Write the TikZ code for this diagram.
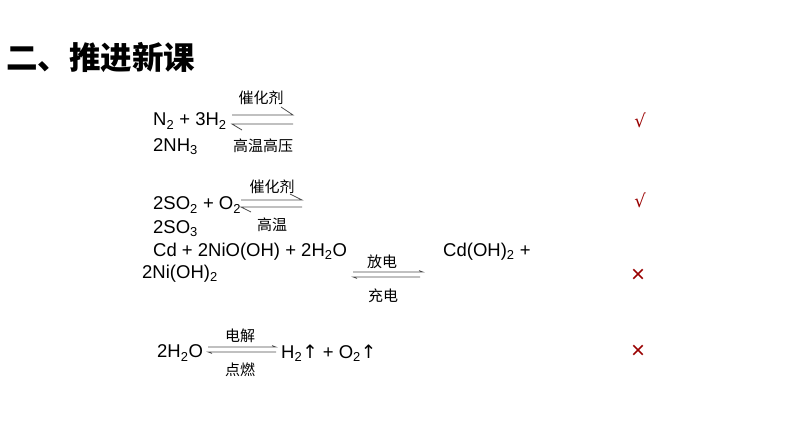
\documentclass[tikz,border=0pt]{standalone}
\usepackage{fontspec}
\setmainfont{Liberation Sans}
\newfontfamily\cjk{Noto Sans CJK SC}
\newfontfamily\djv{DejaVu Sans}
\newcommand{\sbs}[1]{\textsubscript{#1}}
\begin{document}
\begin{tikzpicture}[x=1pt,y=-1pt,
  eq/.style={anchor=west,inner sep=0pt,font=\fontsize{18.5}{18.5}\selectfont},
  lab/.style={inner sep=0pt,font=\cjk\fontsize{15}{15}\selectfont},
  ln/.style={draw=black!70,line width=0.8pt},
  mk/.style={inner sep=0pt,text=red!60!black,font=\fontsize{18}{18}\selectfont}]
\useasboundingbox (0,0) rectangle (794,447);
\node[anchor=west,inner sep=0pt,font=\cjk\bfseries\fontsize{31.5}{31.5}\selectfont] (t) at (6,57) {二、推进新课};
% eq1
\node[eq] (e1) at (153,121) {N\sbs{2} + 3H\sbs{2}};
\node[eq] (e1b) at (153,147) {2NH\sbs{3}};
\node[lab] (c1) at (261,98) {催化剂};
\node[lab] (c1b) at (263,146) {高温高压};
\coordinate (a1) at (232,115); \coordinate (b1) at (293,115);
\coordinate (a2) at (232,124); \coordinate (b2) at (293,124);
\draw[ln] (a1) -- (b1) -- ++(-12,-8);
\draw[ln] (b2) -- (a2) -- ++(10,6);
\node[mk] (m1) at (640,120) {\djv √};
% eq2
\node[eq] (e2) at (153,205) {2SO\sbs{2} + O\sbs{2}};
\node[eq] (e2b) at (153,229) {2SO\sbs{3}};
\node[lab] (c2) at (272,187) {催化剂};
\node[lab] (c2b) at (272,225) {高温};
\coordinate (a3) at (241,200); \coordinate (b3) at (302,200);
\coordinate (a4) at (241,207); \coordinate (b4) at (302,207);
\draw[ln] (a3) -- (b3) -- ++(-12,-6);
\draw[ln] (b4) -- (a4) -- ++(10,5);
\node[mk] (m2) at (640,200) {\djv √};
% eq3
\node[eq] (e3) at (153,252) {Cd + 2NiO(OH) + 2H\sbs{2}O};
\node[eq] (e3b) at (142,274) {2Ni(OH)\sbs{2}};
\node[eq] (e3c) at (443,252) {Cd(OH)\sbs{2} +};
\node[lab] (c3) at (382,262) {放电};
\node[lab] (c3b) at (383,296) {充电};
\coordinate (a5) at (353,272); \coordinate (b5) at (423,272);
\coordinate (a6) at (353,277); \coordinate (b6) at (420,277);
\draw[ln,line width=0.6pt] (a5) -- (b5) -- ++(-4,-1.5);
\draw[ln,line width=0.6pt] (b6) -- (a6) -- ++(4,1.5);
\node[mk,font=\fontsize{24}{24}\selectfont] (m3) at (638,276) {×};
% eq4
\node[eq] (e4) at (157,353) {2H\sbs{2}O};
\node[lab] (c4) at (240,336) {电解};
\node[lab] (c4b) at (240,370) {点燃};
\coordinate (a7) at (208,347); \coordinate (b7) at (276,347);
\coordinate (a8) at (208,352); \coordinate (b8) at (276,352);
\draw[ln,line width=0.6pt] (a7) -- (b7) -- ++(-4,-1.5);
\draw[ln,line width=0.6pt] (b8) -- (a8) -- ++(4,1.5);
\node[eq] (e4b) at (281,353) {H\sbs{2}{\djv ↑} + O\sbs{2}{\djv ↑}};
\node[mk,font=\fontsize{24}{24}\selectfont] (m4) at (638,352) {×};
\end{tikzpicture}
\end{document}
